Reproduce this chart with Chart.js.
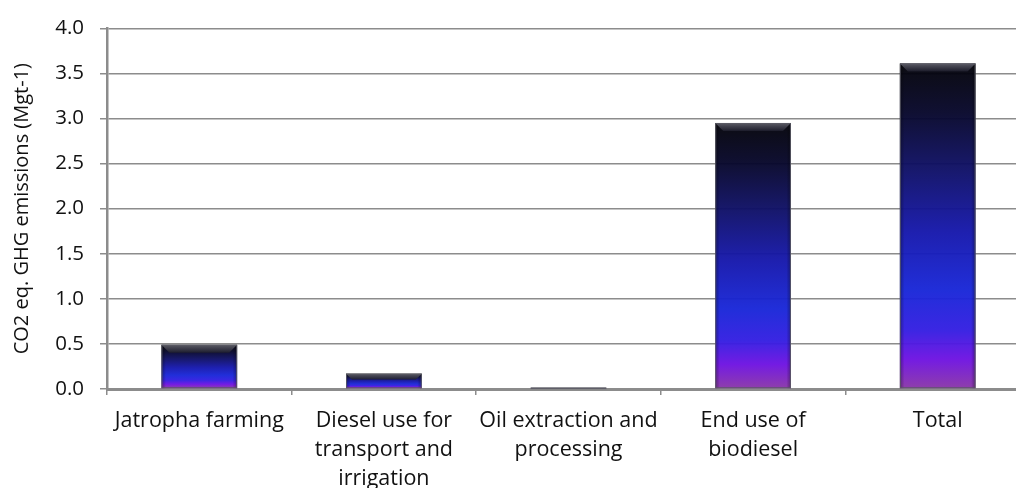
<!DOCTYPE html>
<html>
<head>
<meta charset="utf-8">
<script src="https://cdn.jsdelivr.net/npm/chart.js@4.4.1/dist/chart.umd.min.js"></script>
<style>
  html, body { margin: 0; padding: 0; background: #fff; overflow: hidden; }
  canvas { display: block; }
</style>
</head>
<body>
<canvas id="c" width="1030" height="488" style="width:1030px;height:488px"></canvas>
<script>
// Emission sources and their CO2-equivalent GHG emissions
const categories = [
  "Jatropha farming",
  ["Diesel use for", "transport and", "irrigation"],
  ["Oil extraction and", "processing"],
  ["End use of", "biodiesel"],
  "Total"
];
const emissions = [0.49, 0.17, 0.01, 2.95, 3.61];
const yTicks = [0, 0.5, 1.0, 1.5, 2.0, 2.5, 3.0, 3.5, 4.0];
const yTitle = "CO2 eq. GHG emissions (Mgt-1)";

const FONT = "'Open Sans', 'Noto Sans', sans-serif";
const GRID = "#8c8c8c";

// Shaded bevelled columns: vertical gradient per bar plus a lighter top bevel
const bevelBars = {
  id: "bevelBars",
  afterDatasetsDraw(chart) {
    const ctx = chart.ctx;
    const meta = chart.getDatasetMeta(0);
    meta.data.forEach((bar) => {
      const p = bar.getProps(["x", "y", "base", "width"], true);
      const left = p.x - p.width / 2, right = p.x + p.width / 2;
      const top = Math.min(p.y, p.base), bottom = Math.max(p.y, p.base);
      const h = bottom - top;
      if (h <= 0) return;
      ctx.save();
      ctx.globalAlpha = 0.96;
      const g = ctx.createLinearGradient(0, top, 0, bottom);
      g.addColorStop(0.00, "#020208");
      g.addColorStop(0.15, "#06062a");
      g.addColorStop(0.32, "#0e0f64");
      g.addColorStop(0.52, "#1517ac");
      g.addColorStop(0.70, "#1826d8");
      g.addColorStop(0.82, "#331ee2");
      g.addColorStop(0.91, "#6e12e2");
      g.addColorStop(1.00, "#8a36a8");
      ctx.fillStyle = g;
      ctx.fillRect(left, top, right - left, h);
      ctx.globalAlpha = 1;

      // side shading
      const sg = ctx.createLinearGradient(left, 0, right, 0);
      sg.addColorStop(0, "rgba(0,0,0,0.35)");
      sg.addColorStop(0.06, "rgba(0,0,0,0)");
      sg.addColorStop(0.94, "rgba(0,0,0,0)");
      sg.addColorStop(1, "rgba(0,0,0,0.35)");
      ctx.fillStyle = sg;
      ctx.fillRect(left, top, right - left, h);

      // top bevel
      const b = Math.min(8, h * 0.4);
      if (b > 1) {
        const bg = ctx.createLinearGradient(0, top, 0, top + b);
        bg.addColorStop(0, "rgba(95,95,105,0.95)");
        bg.addColorStop(1, "rgba(30,30,45,0.9)");
        ctx.fillStyle = bg;
        ctx.beginPath();
        ctx.moveTo(left, top);
        ctx.lineTo(right, top);
        ctx.lineTo(right - b, top + b);
        ctx.lineTo(left + b, top + b);
        ctx.closePath();
        ctx.fill();
      }

      // outline
      ctx.strokeStyle = "rgba(90,90,100,0.9)";
      ctx.lineWidth = 1;
      ctx.strokeRect(left + 0.5, top + 0.5, right - left - 1, h - 1);
      ctx.restore();
    });
  }
};

new Chart(document.getElementById("c"), {
  type: "bar",
  data: {
    labels: categories,
    datasets: [{
      data: emissions,
      backgroundColor: "rgba(0,0,0,0)",
      borderWidth: 0,
      barPercentage: 0.41,
      categoryPercentage: 1.0
    }]
  },
  options: {
    responsive: false,
    devicePixelRatio: 1,
    animation: false,
    layout: { padding: { top: 27, right: 0, bottom: 0, left: 0 } },
    plugins: { legend: { display: false }, tooltip: { enabled: false } },
    scales: {
      x: {
        grid: { display: true, drawOnChartArea: false, offset: true, tickLength: 6, color: GRID, lineWidth: 1.5 },
        border: { color: GRID, width: 3 },
        ticks: { color: "#111", font: { family: FONT, size: 21.5, lineHeight: 1.35 }, padding: 11, maxRotation: 0, autoSkip: false },
        afterFit(s) { s.height = 99; }
      },
      y: {
        min: 0, max: 4,
        afterBuildTicks(s) { s.ticks = yTicks.map(v => ({ value: v })); },
        grid: { color: GRID, lineWidth: 1.5, tickLength: 7 },
        border: { color: GRID, width: 2.5 },
        ticks: { color: "#111", font: { family: FONT, size: 20.5 }, padding: 16, callback: v => Number(v).toFixed(1) },
        title: { display: true, text: yTitle, color: "#111", font: { family: FONT, size: 20 }, padding: { top: 10, bottom: 0 } },
        afterFit(s) { s.width = 107; }
      }
    }
  },
  plugins: [bevelBars]
});
</script>
</body>
</html>
